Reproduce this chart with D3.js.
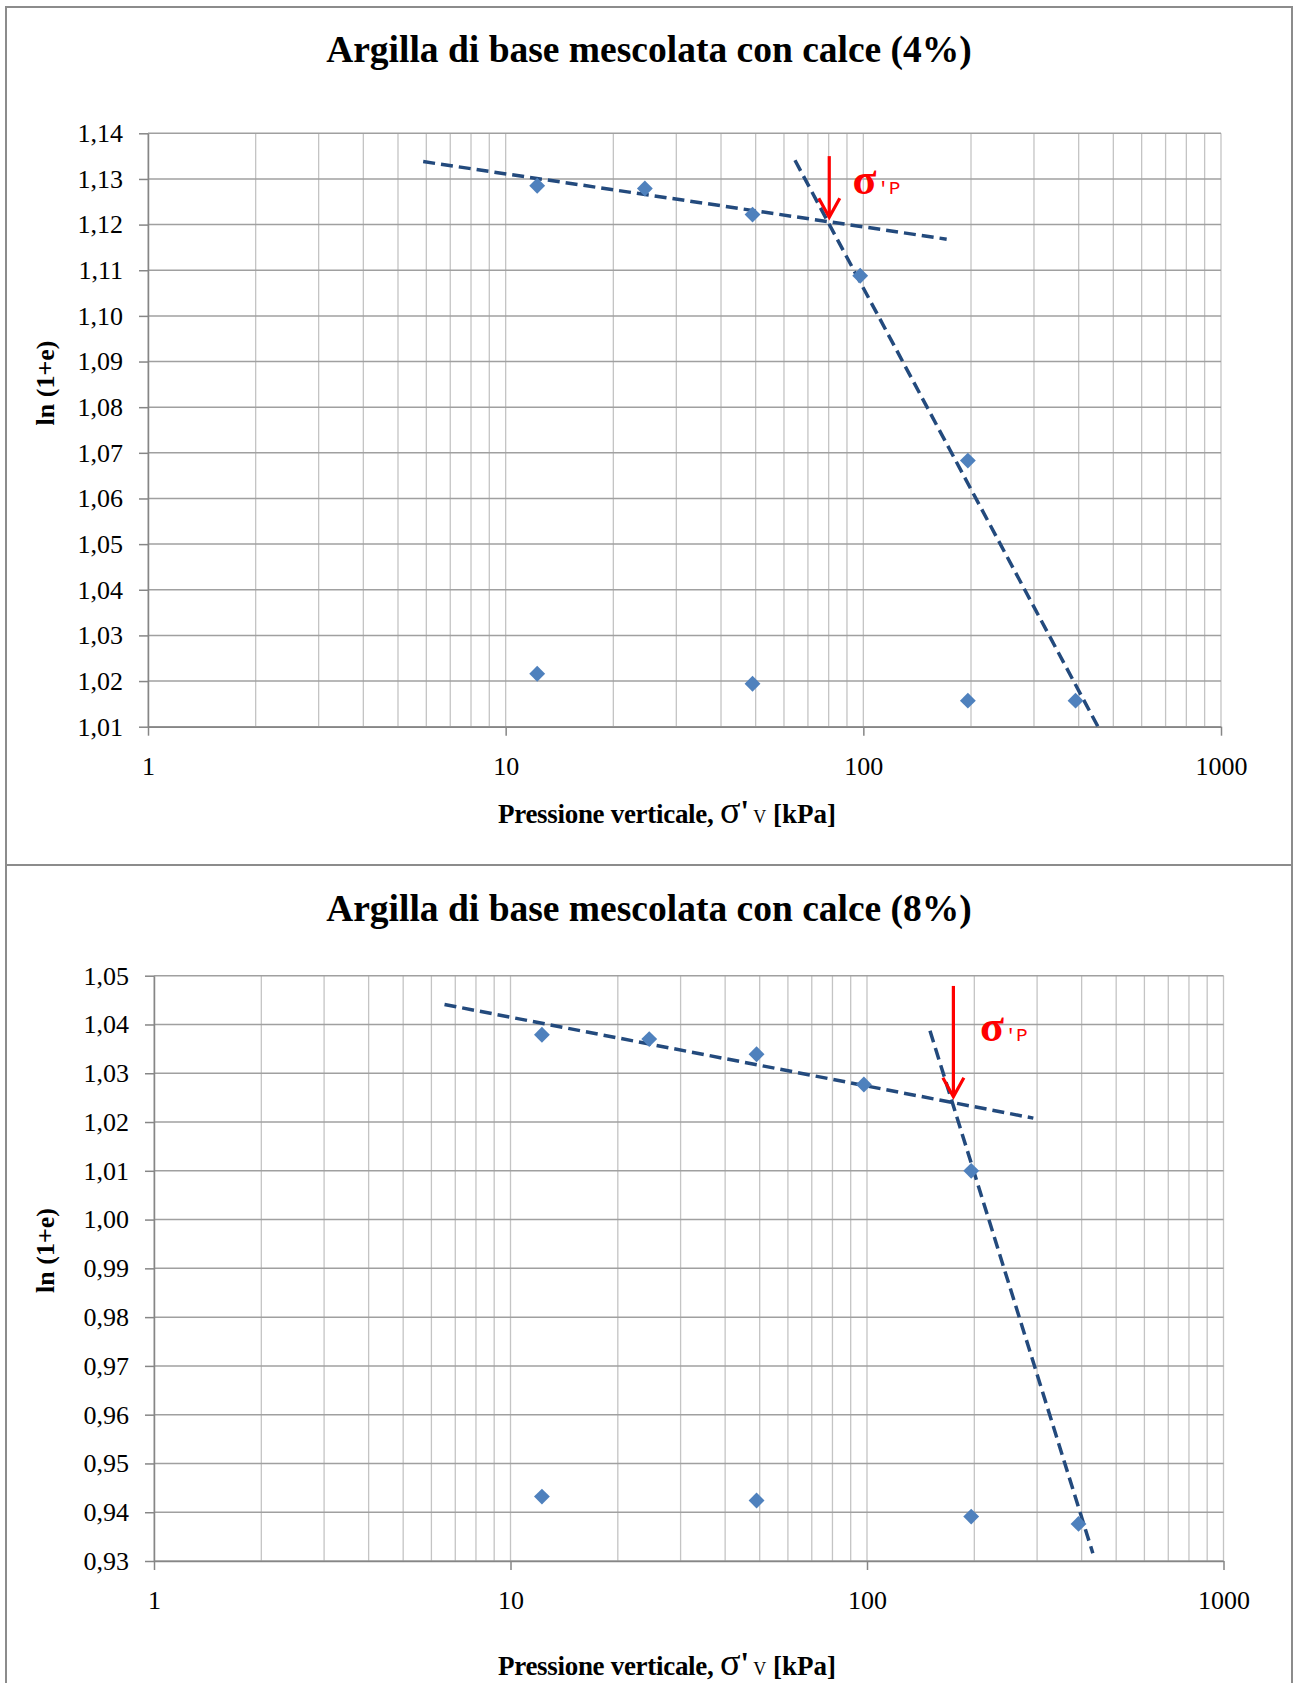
<!DOCTYPE html>
<html>
<head>
<meta charset="utf-8">
<script src="https://cdn.jsdelivr.net/npm/d3@7"></script>
<style>
  body { margin: 0; background: #fff; }
  svg { display: block; }
</style>
</head>
<body>
<svg id="fig" width="1301" height="1683"></svg>
<script>
// Edometric compression curves, ln(1+e) against vertical effective pressure,
// for the base clay treated with 4% and 8% lime.

const panelTitles = [
  "Argilla di base mescolata con calce (4%)",
  "Argilla di base mescolata con calce (8%)"
];
const yAxisTitle = "ln (1+e)";

// log-scale pressure axis [kPa]
const xTicks = [1, 10, 100, 1000];
const xTickLabels = ["1", "10", "100", "1000"];

// load steps [kPa]
const loadSteps = [12.25, 24.5, 49, 98, 196, 392];
const secondSteps = [12.25, 49, 196];

// 4% lime
const yTicks4 = [1.01, 1.02, 1.03, 1.04, 1.05, 1.06, 1.07, 1.08, 1.09, 1.10, 1.11, 1.12, 1.13, 1.14];
const lnLoad4 = [1.1285, 1.1279, 1.1222, 1.1088, 1.0683, 1.0157];
const lnSecond4 = [1.0216, 1.0194, 1.0157];
const recompression4 = [[5.88, 1.1338], [171, 1.1168]];
const virgin4 = [[64.4, 1.1341], [453, 1.0100]];
const sigmaP4 = [80.3, 1.1350, 1.1216];      // pressure, arrow top, arrow tip
const sigmaPLabel4 = [93.3, 1.1267];

// 8% lime
const yTicks8 = [0.93, 0.94, 0.95, 0.96, 0.97, 0.98, 0.99, 1.00, 1.01, 1.02, 1.03, 1.04, 1.05];
const lnLoad8 = [1.0379, 1.0370, 1.0339, 1.0277, 1.0100, 0.9376];
const lnSecond8 = [0.9432, 0.9424, 0.9391];
const recompression8 = [[6.53, 1.0441], [292.8, 1.0208]];
const virgin8 = [[150.2, 1.0387], [430, 0.9316]];
const sigmaP8 = [174.7, 1.0479, 1.0252];
const sigmaPLabel8 = [207.5, 1.0367];

const SERIF = "'Liberation Serif', 'Times New Roman', serif";
const MONO = "'Liberation Mono', 'Courier New', monospace";
const svg = d3.select("#fig");

// chart frames
svg.append("rect").attr("x", 6).attr("y", 7).attr("width", 1286).attr("height", 858)
  .attr("fill", "none").attr("stroke", "#8c8c8c").attr("stroke-width", 2);
svg.append("rect").attr("x", 6).attr("y", 865).attr("width", 1286).attr("height", 840)
  .attr("fill", "none").attr("stroke", "#8c8c8c").attr("stroke-width", 2);

const commaFmt = d => d3.format(".2f")(d).replace(".", ",");

function drawPanel(cfg) {
  const g = svg.append("g");
  const x = d3.scaleLog().domain([1, 1000]).range([cfg.left, cfg.right]);
  const y = d3.scaleLinear().domain([cfg.yTicks[0], cfg.yTicks[cfg.yTicks.length - 1]])
    .range([cfg.bottom, cfg.top]);

  const clipId = "clip" + cfg.id;
  g.append("clipPath").attr("id", clipId).append("rect")
    .attr("x", cfg.left).attr("y", cfg.top)
    .attr("width", cfg.right - cfg.left).attr("height", cfg.bottom - cfg.top);

  // title
  g.append("text").attr("x", cfg.titleX).attr("y", cfg.titleY)
    .attr("text-anchor", "middle").attr("font-family", SERIF)
    .attr("font-weight", "bold").attr("font-size", 37.5).attr("fill", "#000")
    .text(cfg.title);

  // vertical log gridlines
  g.append("g").selectAll("line").data(x.ticks()).join("line")
    .attr("x1", d => x(d)).attr("x2", d => x(d))
    .attr("y1", cfg.top).attr("y2", cfg.bottom)
    .attr("stroke", "#c4c4c4").attr("stroke-width", 1.3);

  // horizontal gridlines
  g.append("g").selectAll("line").data(cfg.yTicks).join("line")
    .attr("x1", cfg.left).attr("x2", cfg.right)
    .attr("y1", d => y(d)).attr("y2", d => y(d))
    .attr("stroke", "#a0a0a0").attr("stroke-width", 1.5);

  // axes
  const yAx = g.append("g").attr("transform", `translate(${cfg.left},0)`)
    .call(d3.axisLeft(y).tickValues(cfg.yTicks).tickFormat(commaFmt)
      .tickSize(9).tickSizeOuter(0).tickPadding(16));
  const xAx = g.append("g").attr("transform", `translate(0,${cfg.bottom})`)
    .call(d3.axisBottom(x).tickValues(xTicks).tickFormat((d, i) => xTickLabels[i])
      .tickSize(9).tickSizeOuter(0).tickPadding(21));
  [yAx, xAx].forEach(a => {
    a.select(".domain").attr("stroke", "#868686").attr("stroke-width", 1.5);
    a.selectAll(".tick line").attr("stroke", "#868686").attr("stroke-width", 1.5);
    a.selectAll(".tick text").attr("font-family", SERIF).attr("font-size", 26).attr("fill", "#000");
  });

  // y-axis title
  g.append("text")
    .attr("transform", `translate(${cfg.yTitleX},${cfg.yTitleY}) rotate(-90)`)
    .attr("text-anchor", "middle").attr("font-family", SERIF)
    .attr("font-weight", "bold").attr("font-size", 26).text(yAxisTitle);

  // x-axis title: Pressione verticale, σ'v [kPa]
  const xt = g.append("text").attr("x", cfg.xTitleX).attr("y", cfg.xTitleY)
    .attr("text-anchor", "middle").attr("font-family", SERIF).attr("fill", "#000");
  xt.append("tspan").attr("font-weight", "bold").attr("font-size", 27)
    .attr("letter-spacing", -0.3).text("Pressione verticale, ");
  xt.append("tspan").attr("font-size", 38).text("σ");
  xt.append("tspan").attr("font-weight", "bold").attr("font-size", 32).attr("dy", -1).text("'");
  xt.append("tspan").attr("font-size", 18).attr("dy", 1).attr("dx", 4).text("V");
  xt.append("tspan").attr("font-weight", "bold").attr("font-size", 27).text(" [kPa]");

  const plot = g.append("g").attr("clip-path", `url(#${clipId})`);
  const line = d3.line().x(d => x(d[0])).y(d => y(d[1]));

  // trend lines
  [cfg.recompression, cfg.virgin].forEach(seg => {
    plot.append("path").datum(seg).attr("d", line)
      .attr("fill", "none").attr("stroke", "#234a7d").attr("stroke-width", 3.5)
      .attr("stroke-dasharray", "12,6");
  });

  // measured points
  const pts = cfg.loadSteps.map((p, i) => [p, cfg.lnLoad[i]])
    .concat(cfg.secondSteps.map((p, i) => [p, cfg.lnSecond[i]]));
  const diamond = d3.symbol().type(d3.symbolDiamond2).size(160);
  g.append("g").selectAll("path").data(pts).join("path")
    .attr("transform", d => `translate(${x(d[0])},${y(d[1])})`)
    .attr("d", diamond).attr("fill", "#4f81bd");

  // preconsolidation arrow
  const ax = x(cfg.sigmaP[0]), ay1 = y(cfg.sigmaP[1]), ay2 = y(cfg.sigmaP[2]);
  g.append("line").attr("x1", ax).attr("x2", ax).attr("y1", ay1).attr("y2", ay2 - 1)
    .attr("stroke", "#ff0000").attr("stroke-width", 3.2);
  g.append("path")
    .attr("d", `M${ax - 10.5},${ay2 - 19}L${ax},${ay2}L${ax + 10.5},${ay2 - 19}`)
    .attr("fill", "none").attr("stroke", "#ff0000").attr("stroke-width", 3.2)
    .attr("stroke-linejoin", "miter");

  const lbl = g.append("text").attr("x", x(cfg.sigmaPLabel[0])).attr("y", y(cfg.sigmaPLabel[1]))
    .attr("fill", "#ff0000");
  lbl.append("tspan").attr("font-family", SERIF).attr("font-weight", "bold")
    .attr("font-size", 44).text("σ");
  lbl.append("tspan").attr("font-family", MONO).attr("font-size", 19).attr("dx", 1).text("'P");
}

drawPanel({
  id: 4, title: panelTitles[0],
  left: 148, right: 1221, top: 133.3, bottom: 726.7,
  titleX: 649, titleY: 62,
  yTitleX: 54, yTitleY: 383,
  xTitleX: 667, xTitleY: 823,
  yTicks: yTicks4, loadSteps, secondSteps,
  lnLoad: lnLoad4, lnSecond: lnSecond4,
  recompression: recompression4, virgin: virgin4,
  sigmaP: sigmaP4, sigmaPLabel: sigmaPLabel4
});

drawPanel({
  id: 8, title: panelTitles[1],
  left: 154, right: 1223.5, top: 975.7, bottom: 1561,
  titleX: 649, titleY: 921,
  yTitleX: 54, yTitleY: 1250.5,
  xTitleX: 667, xTitleY: 1675,
  yTicks: yTicks8, loadSteps, secondSteps,
  lnLoad: lnLoad8, lnSecond: lnSecond8,
  recompression: recompression8, virgin: virgin8,
  sigmaP: sigmaP8, sigmaPLabel: sigmaPLabel8
});
</script>
</body>
</html>
